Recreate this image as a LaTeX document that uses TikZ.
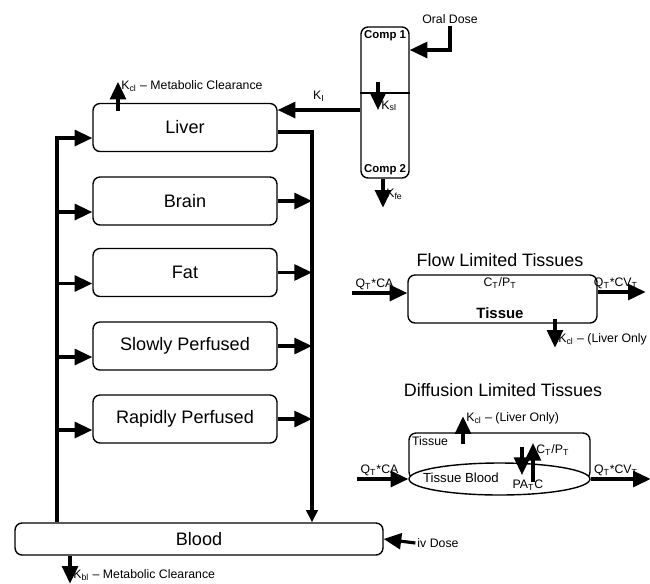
\documentclass[tikz,border=0pt]{standalone}
\usepackage{fontspec}
\setmainfont{Liberation Sans}
\usetikzlibrary{arrows.meta,shapes.geometric}

\tikzset{
  organ/.style={draw,rounded corners=4pt,line width=0.8pt,minimum width=3.68cm,minimum height=0.96cm,font=\fontsize{10.3}{12}\selectfont},
  flow/.style={line width=1.8pt,-{Triangle[length=10pt,width=9pt]}},
  lbl/.style={font=\fontsize{7}{8}\selectfont,inner sep=1pt},
  comp/.style={font=\fontsize{6.5}{8}\selectfont\bfseries,inner sep=2pt},
  heading/.style={font=\fontsize{10.2}{12}\selectfont},
}

\begin{document}
\begin{tikzpicture}[x=0.02cm,y=-0.02cm]
      \useasboundingbox (0,0) rectangle (650,583);

      % compartments of the body
      \draw (185,127.5) node[organ] (liver) {Liver};
      \draw (185,201) node[organ] (brain) {Brain};
      \draw (185,272.5) node[organ] (fat) {Fat};
      \draw (185,346) node[organ] (slow) {Slowly Perfused};
      \draw (185,419) node[organ] (rapid) {Rapidly Perfused};
      \draw (199,539) node[organ,minimum width=7.36cm,minimum height=0.64cm] (blood) {Blood};

      \coordinate (lbus) at (57,0);
      \coordinate (rbus) at (312,0);

      \draw[flow] (blood.north -| lbus) |- ([yshift=-0.21cm]liver.west);
      \foreach \organ in {brain,fat,slow,rapid}{
        \draw[flow] ([yshift=-0.22cm]\organ.west -| lbus) -- ([yshift=-0.22cm]\organ.west);
        \draw[flow] (\organ.east) -- (\organ.east -| rbus);
      }
      \draw[flow,-{Triangle[length=7pt,width=6.5pt]}] ([yshift=-0.09cm]liver.east) -| (blood.north -| rbus);

      \draw[flow] ([xshift=-1.34cm,yshift=-0.16cm]liver.north) -- ++(0,-29)
        node[lbl,right,pos=0.85] {K\textsubscript{cl} -- Metabolic Clearance};
      \draw[flow] ([xshift=-2.58cm]blood.south) -- ++(0,28)
        node[lbl,right,pos=0.7] {K\textsubscript{bl} -- Metabolic Clearance};

      \draw (438,543) node[lbl] (ivdose) {iv Dose};
      \draw[flow] (ivdose.west) -- (blood.east);

      % gut
      \draw (385,102.5) node[draw,rounded corners=4pt,line width=0.8pt,minimum width=0.96cm,minimum height=3.02cm] (gut) {};
      \coordinate (split) at (385,93);
      \draw[line width=0.8pt] (split -| gut.west) -- (split -| gut.east);
      \node[comp,anchor=north west] (comp1) at (gut.north west) {Comp 1};
      \node[comp,anchor=south west] (comp2) at (gut.south west) {Comp 2};

      \draw (450,19) node[lbl] (oral) {Oral Dose};
      \draw[flow] (oral.south) |- ([yshift=1.05cm]gut.east);
      \draw[flow] ([xshift=-0.14cm,yshift=0.22cm]split) -- ++(0,28)
        node[lbl,right,pos=0.85] {K\textsubscript{sI}};
      \draw[flow] ([xshift=-0.04cm]gut.south) -- ++(0,29)
        node[lbl,right,pos=0.55] {K\textsubscript{fe}};
      \draw[flow] ([yshift=-0.15cm]gut.west) -- ([yshift=-0.15cm]gut.west -| liver.east)
        node[lbl,midway,above=3pt] {K\textsubscript{I}};

      % flow limited tissue
      \draw (500,260) node[heading] (flowtitle) {Flow Limited Tissues};
      \draw (502.5,299) node[organ,minimum width=3.78cm] (flowbox) {};
      \draw (500,283) node[lbl] (flowct) {C\textsubscript{T}/P\textsubscript{T}};
      \draw (500,313) node[lbl,font=\fontsize{8.5}{10}\selectfont\bfseries] (flowtis) {Tissue};
      \draw[flow] ([xshift=-1.1cm,yshift=0.12cm]flowbox.west)
        node[lbl,above right] {Q\textsubscript{T}*CA} -- ([yshift=0.12cm]flowbox.west);
      \draw[flow] ([yshift=0.14cm]flowbox.east)
        node[lbl,above right,xshift=-4pt] {Q\textsubscript{T}*CV\textsubscript{T}} -- ++(48,0);
      \draw[flow] ([xshift=1.05cm,yshift=0.1cm]flowbox.south) -- ++(0,29)
        node[lbl,right,pos=0.7] {K\textsubscript{cl} -- (Liver Only};

      % diffusion limited tissue
      \draw (503,390) node[heading] (difftitle) {Diffusion Limited Tissues};
      \draw (499.5,456) node[draw,rounded corners=4pt,line width=0.8pt,minimum width=3.62cm,minimum height=0.92cm] (tisbox) {};
      \draw (499.5,479) node[draw,ellipse,fill=white,line width=0.8pt,minimum width=3.62cm,minimum height=0.64cm,inner sep=0pt] (tblood) {};
      \node[lbl,anchor=north west,inner sep=2pt] (tislbl) at (tisbox.north west) {Tissue};
      \draw (461,478) node[lbl,font=\fontsize{7.5}{9}\selectfont] (tbl) {Tissue Blood};
      \draw (528,485) node[lbl] (patc) {PA\textsubscript{T}C};

      \draw[flow] ([xshift=-0.73cm,yshift=-0.24cm]tisbox.north) -- ++(0,-28)
        node[lbl,right,yshift=-1pt] {K\textsubscript{cl} -- (Liver Only)};
      \draw[flow] ([xshift=0.45cm,yshift=0.64cm]tblood.center) -- ++(0,28);
      \draw[flow] ([xshift=0.67cm,yshift=-0.06cm]tblood.center) -- ++(0,-39)
        node[lbl,right,yshift=-0.14cm] {C\textsubscript{T}/P\textsubscript{T}};
      \draw[flow] ([xshift=-1.02cm]tblood.west)
        node[lbl,above right] {Q\textsubscript{T}*CA} -- (tblood.west);
      \draw[flow] (tblood.east)
        node[lbl,above right] {Q\textsubscript{T}*CV\textsubscript{T}} -- ++(60,0);
\end{tikzpicture}
\end{document}
